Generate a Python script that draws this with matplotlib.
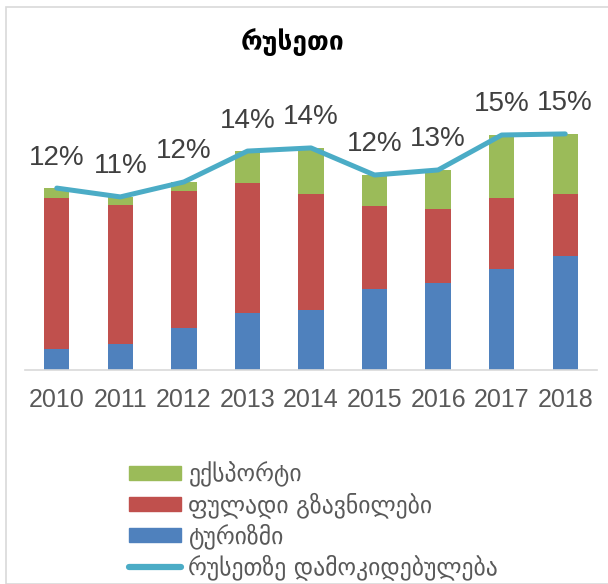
import matplotlib.pyplot as plt
from matplotlib.patches import Rectangle, Patch
from matplotlib.lines import Line2D

years = ["2010", "2011", "2012", "2013", "2014", "2015", "2016", "2017", "2018"]
tourism = [1.33, 1.65, 2.67, 3.62, 3.81, 5.14, 5.52, 6.41, 7.24]
remittances = [9.59, 8.83, 8.70, 8.25, 7.37, 5.27, 4.70, 4.51, 3.94]
export = [0.63, 0.51, 0.57, 2.03, 2.92, 1.97, 2.48, 4.00, 3.81]
dependency = [11.55, 10.99, 11.94, 13.90, 14.10, 12.38, 12.70, 14.92, 14.99]

labels = ["ექსპორტი", "ფულადი გზავნილები", "ტურიზმი", "რუსეთზე დამოკიდებულება"]
title = "რუსეთი"

c_blue = "#4f81bd"
c_red = "#c0504d"
c_green = "#9bbb59"
c_line = "#4bacc6"

W, H = 608, 584
fig = plt.figure(figsize=(W / 100, H / 100), dpi=100)

# chart border
fig.patches.append(Rectangle((6 / W, 0), 1, 1 - 7 / H, transform=fig.transFigure,
                             fill=False, edgecolor="#d9d9d9", linewidth=1.2))

ax = fig.add_axes([25 / W, 1 - 370 / H, 572 / W, 260 / H])
x = range(len(years))
ax.bar(x, tourism, width=0.4, color=c_blue)
ax.bar(x, remittances, width=0.4, bottom=tourism, color=c_red)
bottom2 = [a + b for a, b in zip(tourism, remittances)]
ax.bar(x, export, width=0.4, bottom=bottom2, color=c_green)
ax.plot(x, dependency, color=c_line, linewidth=3.6, solid_capstyle="round")

for i, v in enumerate(dependency):
    ax.annotate(f"{v:.0f}%", (i, v), xytext=(0, 22), textcoords="offset points",
                ha="center", va="center", fontsize=20, color="#404040",
                family="Liberation Sans")

ax.set_xlim(-0.5, len(years) - 0.5)
ax.set_ylim(0, 260 / 15.75)
ax.set_xticks(list(x))
ax.set_xticklabels(years, fontsize=18, color="#595959", family="Liberation Sans")
ax.tick_params(axis="x", length=0, pad=13)
ax.set_yticks([])
for s in ["left", "right", "top"]:
    ax.spines[s].set_visible(False)
ax.spines["bottom"].set_color("#d9d9d9")
ax.spines["bottom"].set_linewidth(1.2)

fig.text(293 / W, 1 - 42 / H, title, ha="center", va="center", fontsize=19,
         fontweight="bold", color="black", family="DejaVu Sans")

handles = [Patch(color=c_green), Patch(color=c_red), Patch(color=c_blue),
           Line2D([], [], color=c_line, linewidth=4.5, solid_capstyle="round")]
fig.legend(handles, labels, loc="upper left", bbox_to_anchor=(120 / W, 1 - 452 / H),
           frameon=False, prop={"family": "DejaVu Sans", "size": 17},
           labelcolor="#595959", handlelength=2.2, handleheight=0.55,
           handletextpad=0.3, labelspacing=0.22, borderaxespad=0)

fig.savefig("out.png", dpi=100)
